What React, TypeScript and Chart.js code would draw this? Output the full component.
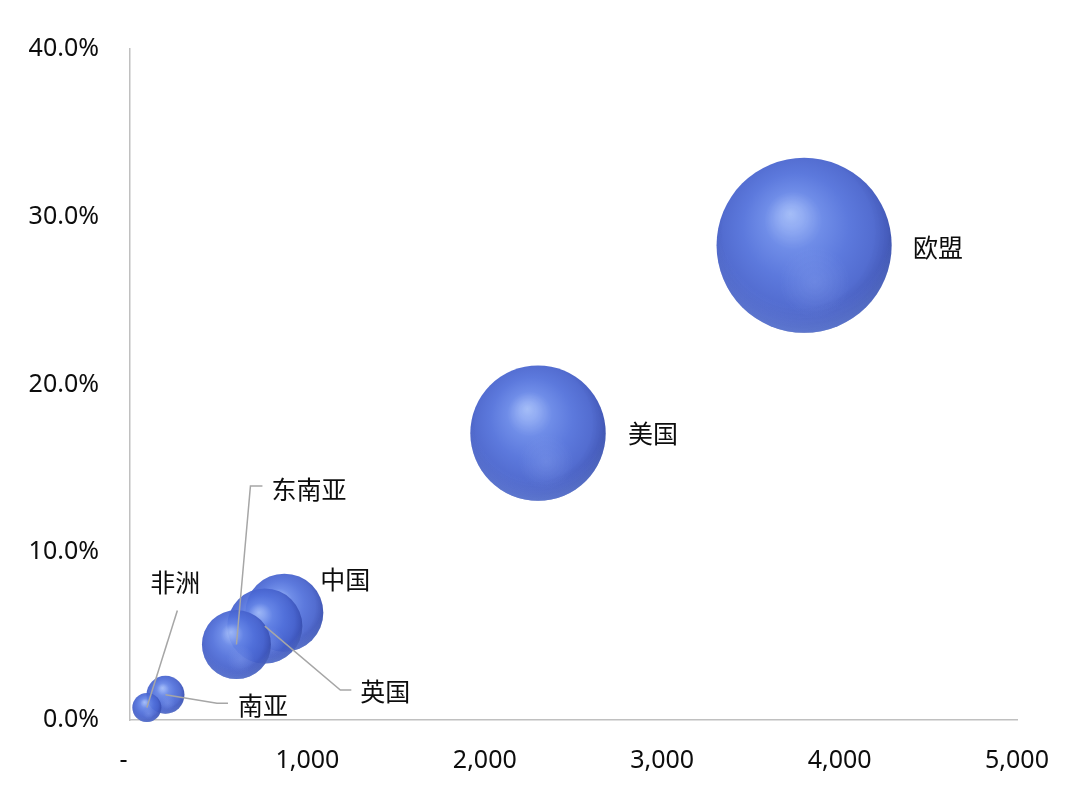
import React, { useEffect, useRef } from "react";
import { Chart, registerables } from "chart.js";

Chart.register(...registerables);

// ---- data ----
const regions = ["欧盟", "美国", "中国", "英国", "东南亚", "南亚", "非洲"];
const xValues = [3800, 2300, 870, 760, 600, 200, 95];
const yValues = [28.3, 17.1, 6.4, 5.6, 4.5, 1.5, 0.75];
const bubbleSizes = [76.6, 45.8, 15.2, 14.1, 11.9, 3.6, 2.1];
const xTicks = [0, 1000, 2000, 3000, 4000, 5000];
const yTicks = [0, 10, 20, 30, 40];

// label placement (pixel offsets relative to bubble centre; styling only)
type LabelPlace = { dx: number; dy: number; leader?: [number, number][] };
const labelPlaces: Record<string, LabelPlace> = {
  欧盟: { dx: 109, dy: 2 },
  美国: { dx: 90, dy: 0.5 },
  中国: { dx: 36, dy: -33 },
  英国: { dx: 95.5, dy: 65, leader: [[86.5, 64], [75.5, 64]] },
  东南亚: { dx: 35, dy: -155.5, leader: [[26, -158.5], [14, -158.5]] },
  南亚: { dx: 72.5, dy: 10.5, leader: [[62.5, 8.5], [51.5, 8.5]] },
  非洲: { dx: 3.5, dy: -125, leader: [[30.5, -97]] },
};

const maxSize = Math.max(...bubbleSizes);

function radiusFor(size: number, areaWidth: number) {
  const maxR = areaWidth * 0.0987;
  return maxR * Math.sqrt(size / maxSize);
}

// draws bubbles one by one (library element positions) with extra sphere shading
const spherePlugin = {
  id: "sphereShade",
  beforeDatasetDraw(chart: any, args: any) {
    const meta = args.meta;
    const ctx = chart.ctx;
    ctx.save();
    meta.data.forEach((el: any) => {
      el.draw(ctx, chart.chartArea);
      const cx = el.x;
      const cy = el.y;
      const r = el.options.radius;
      if (!isFinite(cx) || !isFinite(cy) || !(r > 0)) return;
      ctx.save();
      ctx.beginPath();
      ctx.arc(cx, cy, r, 0, Math.PI * 2);
      ctx.clip();
      // secondary soft glow at lower right
      const g1 = ctx.createRadialGradient(cx + 0.12 * r, cy + 0.42 * r, 0, cx + 0.12 * r, cy + 0.42 * r, 0.4 * r);
      g1.addColorStop(0, "rgba(140,165,240,0.35)");
      g1.addColorStop(1, "rgba(140,165,240,0)");
      ctx.fillStyle = g1;
      ctx.fillRect(cx - r, cy - r, 2 * r, 2 * r);
      // lighter rim along the bottom
      const g2 = ctx.createRadialGradient(cx + 0.02 * r, cy - 0.28 * r, 0.98 * r, cx + 0.02 * r, cy - 0.28 * r, 1.3 * r);
      g2.addColorStop(0, "rgba(120,150,240,0)");
      g2.addColorStop(1, "rgba(125,155,245,0.55)");
      ctx.fillStyle = g2;
      ctx.fillRect(cx - r, cy - r, 2 * r, 2 * r);
      ctx.restore();
    });
    ctx.restore();
    return false;
  },
};

const labelPlugin = {
  id: "bubbleLabels",
  afterDatasetsDraw(chart: any) {
    const meta = chart.getDatasetMeta(0);
    const ctx = chart.ctx;
    ctx.save();
    meta.data.forEach((el: any, i: number) => {
      const name = regions[i];
      const p = labelPlaces[name];
      if (!p) return;
      const cx = el.x;
      const cy = el.y;
      if (p.leader) {
        ctx.beginPath();
        ctx.strokeStyle = "#a6a6a6";
        ctx.lineWidth = 1.5;
        p.leader.forEach((pt, k) => {
          if (k === 0) ctx.moveTo(cx + pt[0], cy + pt[1]);
          else ctx.lineTo(cx + pt[0], cy + pt[1]);
        });
        ctx.lineTo(cx, cy);
        ctx.stroke();
      }
      ctx.fillStyle = "#0d0d0d";
      ctx.font = '25px "Noto Sans CJK SC", "Noto Sans", sans-serif';
      ctx.textAlign = "left";
      ctx.textBaseline = "middle";
      ctx.fillText(name, cx + p.dx, cy + p.dy);
    });
    ctx.restore();
  },
};

export default function App() {
  const ref = useRef<HTMLCanvasElement | null>(null);

  useEffect(() => {
    if (!ref.current) return;
    const points = regions.map((_, i) => ({
      x: xValues[i],
      y: yValues[i],
      size: bubbleSizes[i],
    }));

    const chart = new Chart(ref.current, {
      type: "bubble",
      data: {
        datasets: [
          {
            label: "regions",
            data: points as any,
            clip: false as any,
            borderWidth: 0,
            radius: (c: any) => {
              const area = c.chart.chartArea;
              const w = area ? area.right - area.left : 887;
              const s = c.raw ? c.raw.size : 1;
              return radiusFor(s, w);
            },
            backgroundColor: (c: any) => {
              const base = "rgb(78,110,215)";
              if (c.type !== "data" || !c.raw) return base;
              const chart = c.chart;
              const xs = chart.scales.x;
              const ys = chart.scales.y;
              const area = chart.chartArea;
              if (!xs || !ys || !area) return base;
              const cx = xs.getPixelForValue(c.raw.x);
              const cy = ys.getPixelForValue(c.raw.y);
              const r = radiusFor(c.raw.size, area.right - area.left);
              if (!isFinite(cx) || !isFinite(cy) || !isFinite(r) || r <= 0) return base;
              const g = chart.ctx.createRadialGradient(
                cx - 0.16 * r,
                cy - 0.36 * r,
                0,
                cx - 0.04 * r,
                cy - 0.1 * r,
                1.1 * r
              );
              g.addColorStop(0, "rgba(160,186,247,0.95)");
              g.addColorStop(0.13, "rgba(138,166,242,0.94)");
              g.addColorStop(0.3, "rgba(100,132,230,0.93)");
              g.addColorStop(0.55, "rgba(80,111,218,0.93)");
              g.addColorStop(0.78, "rgba(70,98,205,0.93)");
              g.addColorStop(0.9, "rgba(60,84,186,0.94)");
              g.addColorStop(1, "rgba(48,70,160,0.95)");
              return g;
            },
          } as any,
        ],
      },
      options: {
        responsive: false,
        animation: false,
        events: [],
        layout: { autoPadding: false, padding: { left: 0, top: 49, right: 63, bottom: 0 } },
        plugins: {
          legend: { display: false },
          tooltip: { enabled: false },
        },
        scales: {
          x: {
            type: "linear",
            min: xTicks[0],
            max: xTicks[xTicks.length - 1],
            afterBuildTicks: (s: any) => {
              s.ticks = xTicks.map((v) => ({ value: v }));
            },
            afterFit: (s: any) => {
              s.height = 74;
            },
            grid: { display: false, drawTicks: false },
            border: { display: true, color: "#c0c0c0", width: 1.5 },
            ticks: {
              padding: 26,
              color: "#0d0d0d",
              font: { family: '"Noto Sans", sans-serif', size: 25 },
              maxRotation: 0,
              callback: (v: any) =>
                Number(v) === 0 ? "-  " : Number(v).toLocaleString("en-US"),
            },
          },
          y: {
            type: "linear",
            min: yTicks[0],
            max: yTicks[yTicks.length - 1],
            afterBuildTicks: (s: any) => {
              s.ticks = yTicks.map((v) => ({ value: v }));
            },
            afterFit: (s: any) => {
              s.width = 130;
            },
            grid: { display: false, drawTicks: false },
            border: { display: true, color: "#c0c0c0", width: 1.5 },
            ticks: {
              padding: 31,
              color: "#0d0d0d",
              font: { family: '"Noto Sans", sans-serif', size: 25 },
              callback: (v: any) => Number(v).toFixed(1) + "%",
            },
          },
        },
      },
      plugins: [spherePlugin, labelPlugin],
    });
    return () => chart.destroy();
  }, []);

  return (
    <div
      style={{
        position: "absolute",
        left: 0,
        top: 0,
        width: 1080,
        height: 794,
        background: "#fff",
      }}
    >
      <canvas ref={ref} width={1080} height={794} style={{ width: 1080, height: 794 }} />
    </div>
  );
}
